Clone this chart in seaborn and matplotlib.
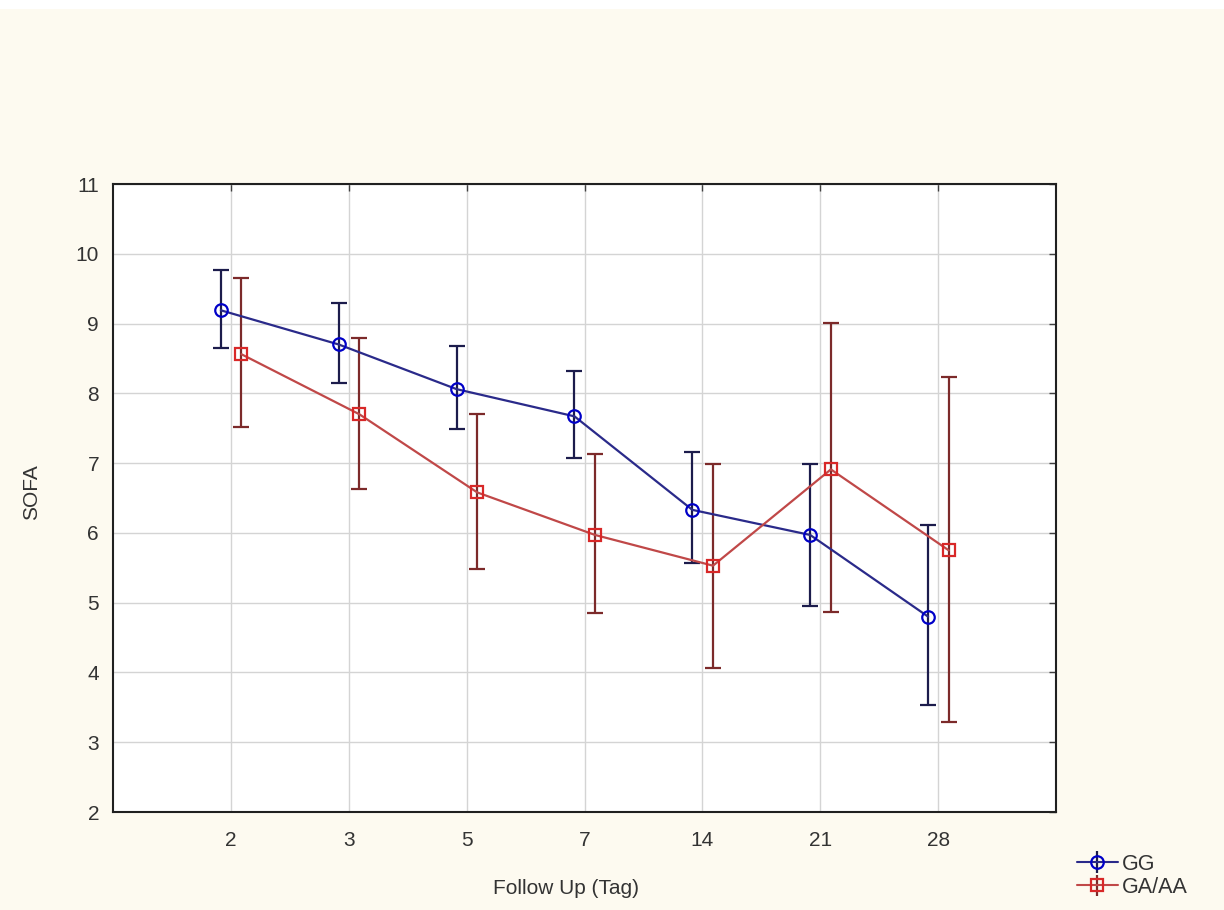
import numpy as np
import pandas as pd
from matplotlib import pyplot as plt
from matplotlib.patches import Rectangle
import seaborn as sns

# SOFA over follow-up days, by genotype (mean with error bars)
days = ['2', '3', '5', '7', '14', '21', '28']

gg_mean = [9.19, 8.70, 8.06, 7.67, 6.33, 5.97, 4.80]
gg_high = [9.77, 9.30, 8.68, 8.32, 7.16, 6.99, 6.12]
gg_low = [8.65, 8.15, 7.49, 7.07, 5.57, 4.95, 3.54]

ga_mean = [8.56, 7.70, 6.58, 5.97, 5.53, 6.91, 5.75]
ga_high = [9.66, 8.80, 7.71, 7.13, 6.99, 9.01, 8.24]
ga_low = [7.52, 6.63, 5.48, 4.85, 4.07, 4.87, 3.29]

group_names = ['GG', 'GA/AA']

sns.set_style('white')
plt.rcParams['font.family'] = ['Liberation Sans', 'DejaVu Sans']

fig = plt.figure(figsize=(12.24, 9.10), dpi=100, facecolor='#fdfaf0')
fig.add_artist(Rectangle((0, 1 - 9 / 910), 1, 9 / 910, transform=fig.transFigure,
                         facecolor='white', edgecolor='none'))
ax = fig.add_axes([113 / 1224, 1 - 812 / 910, (1056 - 113) / 1224, (812 - 184) / 910])
ax.set_facecolor('white')

pos = np.arange(len(days))
styles = [
    dict(mean=gg_mean, low=gg_low, high=gg_high, off=-0.085, marker='o',
         line='#2a2a8a', edge='#0000c8', err='#1c1c4c'),
    dict(mean=ga_mean, low=ga_low, high=ga_high, off=0.09, marker='s',
         line='#c04848', edge='#d82828', err='#7c2a2a'),
]

handles = []
for name, s in zip(group_names, styles):
    x = pos + s['off']
    m = np.array(s['mean'])
    yerr = [m - np.array(s['low']), np.array(s['high']) - m]
    ax.errorbar(x, m, yerr=yerr, fmt='none', ecolor=s['err'], elinewidth=1.6,
                capsize=6, capthick=1.6, zorder=3)
    sns.lineplot(x=x, y=m, ax=ax, color=s['line'], linewidth=1.6, sort=False,
                 marker=s['marker'], markersize=9, markerfacecolor='none',
                 markeredgecolor=s['edge'], markeredgewidth=1.6, zorder=4, legend=False)
    # proxy for the legend (errorbar symbol with line)
    h = ax.errorbar([], [], yerr=[], fmt='-' + s['marker'], color=s['line'], ecolor=s['err'],
                    elinewidth=1.6, capsize=7, capthick=1.6, markersize=9,
                    markerfacecolor='none', markeredgecolor=s['edge'], markeredgewidth=1.6)
    handles.append(h)

if ax.get_legend() is not None:
    ax.get_legend().remove()

ax.set_xlim(-1, 7)
ax.set_ylim(2, 11)
ax.set_xticks(pos)
ax.set_xticklabels(days)
ax.set_yticks(range(2, 12))
ax.grid(True, color='#d4d4d4', linewidth=1)
ax.set_axisbelow(True)
for sp in ax.spines.values():
    sp.set_color('#202020')
    sp.set_linewidth(1.5)
ax.tick_params(direction='in', length=5, width=1, color='#404040', top=True, right=True,
               labelsize=15, labelcolor='#333333')
ax.tick_params(axis='x', pad=14)
ax.tick_params(axis='y', pad=10)

ax.set_xlabel('Follow Up (Tag)', fontsize=15, color='#333333')
ax.set_ylabel('SOFA', fontsize=15, color='#333333')
ax.xaxis.set_label_coords(0.48, -0.106)
ax.yaxis.set_label_coords(-0.076, 0.51)

fig.legend(handles=handles, labels=group_names, loc='upper left',
           bbox_to_anchor=(1066 / 1224, 1 - 843 / 910), frameon=False, fontsize=15.5,
           handlelength=1.9, handletextpad=0.2, labelspacing=0.1, borderpad=0,
           labelcolor='#333333')

fig.savefig('out.png', dpi=100, facecolor=fig.get_facecolor())
